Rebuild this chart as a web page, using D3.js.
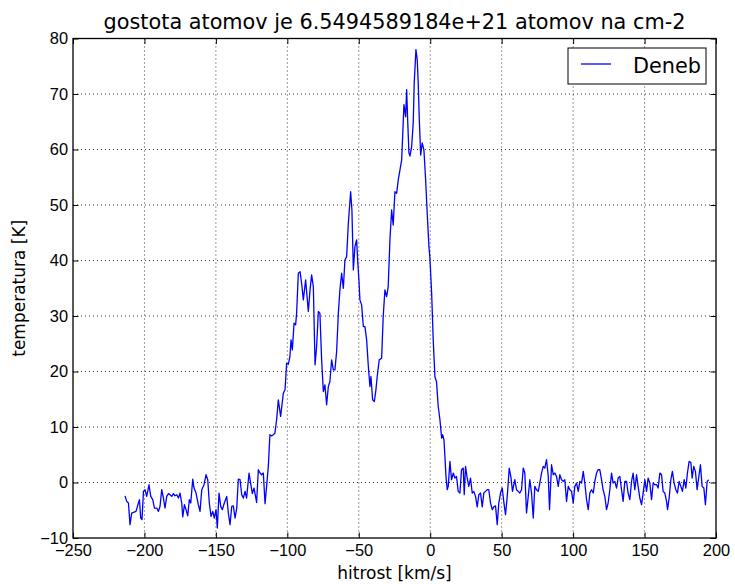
<!DOCTYPE html>
<html>
<head>
<meta charset="utf-8">
<script src="https://cdn.jsdelivr.net/npm/d3@7"></script>
<style>
  body { margin: 0; background: #fff; }
  svg { display: block; font-family: "DejaVu Sans", sans-serif; }
  .axis path { display: none; }
  .axis line { stroke: #000; stroke-width: 1; }
  .axis text { font-size: 16.4px; fill: #000; }
  .grid line { stroke: #000; stroke-width: 0.8; stroke-dasharray: 1, 3; }
</style>
</head>
<body>
<div id="chart"></div>
<script>
// radial velocity [km/s]
const velocity = [
  -213.6, -212.4, -211.2, -210.1, -208.9, -207.7, -205.9, -204.9, -203.5, -202.6,
  -201.7, -200.7, -199.6, -198.4, -196.8, -195.6, -194.2, -193.0, -191.4, -190.2,
  -189.1, -187.9, -186.7, -185.6, -184.4, -183.2, -182.1, -180.9, -179.7, -178.6,
  -177.4, -176.2, -175.1, -173.9, -173.2, -172.0, -170.9, -169.7, -168.6, -167.6,
  -166.2, -165.3, -163.9, -162.3, -161.1, -159.9, -158.3, -156.9, -155.7, -154.6,
  -153.4, -152.2, -151.1, -149.9, -149.0, -147.8, -146.6, -145.5, -144.1, -142.4,
  -141.3, -140.1, -138.9, -137.8, -136.6, -135.4, -134.3, -133.1,
  -131.9, -130.8, -129.6, -128.5, -126.8, -125.7, -124.5, -123.3, -121.5, -120.3,
  -119.1, -118.0, -116.8, -115.6, -114.5, -113.3, -112.2, -111.0, -109.8, -108.7,
  -107.5, -106.3, -104.7,
  -102.8, -101.6, -100.5, -99.3, -98.2, -97.4, -96.5, -95.3, -94.2, -93.5,
  -92.3, -91.1, -90.0, -88.8, -87.2, -85.3, -84.1, -83.0, -81.8, -80.6,
  -79.5, -78.3, -77.2, -76.0, -74.8, -73.7, -72.5, -71.3, -70.2, -69.0,
  -67.8, -66.7, -65.5,
  -64.3, -63.2, -62.0, -60.8, -59.7, -58.5, -57.3, -55.7, -54.8, -53.8,
  -52.7, -51.5, -50.8, -49.9, -49.2, -48.0, -46.8, -45.7, -44.5, -43.3,
  -42.2, -41.5, -40.3, -39.1, -38.0, -37.1, -35.7,
  -34.0, -32.9, -31.7, -30.5, -29.4, -28.2, -27.0, -25.9, -24.7, -23.5,
  -22.4, -21.2, -20.0, -19.3, -18.4, -17.2, -16.5, -15.8, -14.9, -14.2,
  -13.0, -11.9, -11.2, -10.0, -9.1, -8.4, -7.7, -6.7, -5.6, -4.4,
  -3.2, -2.1, -0.9, -0.2, 1.0, 2.1, 3.3, 4.4, 5.6, 6.8,
  8.0, 8.7, 9.6, 10.3, 11.0, 11.9, 12.6, 13.8, 14.9, 16.1,
  17.3, 18.4, 19.6, 20.8, 21.9, 23.1, 23.8, 24.7, 25.9, 27.0,
  28.2, 29.4, 30.5, 31.7, 32.9, 34.0, 35.2, 36.4, 37.5, 38.7,
  39.9, 41.0, 42.2, 43.4, 44.5, 45.7, 46.9, 48.0, 49.2, 50.4,
  51.5, 52.7, 53.9, 55.3, 56.4, 57.6,
  59.2, 60.4, 61.6, 62.7, 63.9, 65.1, 66.2, 67.4, 68.6, 69.7,
  70.9, 72.1, 73.2, 74.4, 75.6, 76.7, 77.9, 79.1, 80.2, 81.4,
  82.6, 83.5, 84.9, 86.1, 87.2, 88.4, 89.6, 90.7, 91.9, 93.1,
  94.2, 95.4, 96.6, 97.7, 98.9, 100.1, 101.2, 102.4, 103.6, 104.7,
  105.9, 107.1, 108.2, 109.4, 110.6, 111.7, 112.9, 114.1, 115.2, 116.4,
  117.5, 118.7, 119.9, 121.0, 122.2, 123.4, 124.5, 125.7, 126.9, 128.0,
  129.2,
  130.4, 131.5, 132.7, 133.9, 135.0, 136.2, 137.4, 138.5, 139.7, 140.9,
  142.0, 143.2, 144.4, 145.5, 146.7, 147.9, 149.0, 150.2, 151.4, 152.5,
  153.7, 154.9, 156.0, 157.2, 158.4, 159.5, 160.7, 161.9, 163.0, 164.2,
  165.4, 166.1, 167.2, 168.4, 169.5, 170.7, 171.9, 173.0, 174.2, 175.4,
  176.5, 177.7, 178.9, 180.0, 181.2, 182.4, 183.3, 184.4, 185.6, 186.8,
  188.0, 189.1, 190.3, 191.5, 192.6, 193.8, 194.9
];

// brightness temperature [K]
const temperature = [
  -2.4, -3.4, -3.7, -7.6, -5.5, -5.4, -5.2, -4.3, -3.1, -6.4,
  -6.7, -1.6, -1.3, -2.5, -0.4, -2.5, -3.1, -4.6, -4.6, -5.2,
  -4.3, -1.3, -2.8, -4.6, -2.5, -2.0, -2.2, -2.5, -2.0, -2.4,
  -2.2, -2.8, -1.9, -3.7, -6.2, -4.0, -4.9, -6.0, -3.1, -3.7,
  0.6, -1.0, -1.9, -4.0, -5.2, -1.3, -0.4, 1.4, 0.5, -3.7,
  -6.1, -5.2, -6.4, -4.9, -8.2, -1.9, -4.3, -4.9, -3.7, -2.5,
  -5.5, -7.6, -4.3, -4.2, -6.4, -4.6, 0.6, 0.5,
  -2.2, -2.8, -1.6, -2.8, 1.7, -0.1, -2.0, -1.0, -3.6, 2.3,
  1.7, 1.4, 1.7, -3.8, -0.7, 2.9, 8.6, 8.4, 8.6, 8.9,
  11.3, 14.9, 11.9,
  16.1, 16.7, 21.5, 21.3, 22.7, 25.7, 23.9, 28.7, 28.4, 30.5,
  37.7, 38.0, 35.9, 32.9, 36.5, 30.8, 34.7, 37.4, 35.3, 21.2,
  24.5, 30.8, 30.5, 22.1, 16.4, 17.6, 14.0, 17.3, 18.2, 22.1,
  20.3, 20.3, 23.6,
  30.5, 34.7, 37.7, 35.0, 40.1, 40.7, 46.7, 52.4, 49.1, 38.3,
  42.5, 43.7, 40.1, 36.5, 32.9, 32.0, 28.1, 28.1, 25.7, 20.9,
  17.3, 19.1, 14.9, 14.6, 16.7, 19.1, 22.1,
  22.4, 29.9, 34.7, 33.5, 35.3, 43.7, 49.1, 46.4, 52.4, 52.1,
  54.5, 56.3, 58.1, 62.3, 68.1, 65.9, 70.8, 65.4, 59.4, 58.8,
  60.5, 64.8, 72.0, 78.0, 76.2, 72.0, 65.9, 59.0, 61.2, 59.9,
  54.5, 48.5, 42.5, 40.4, 34.1, 25.7, 19.0, 18.2, 13.7, 11.3,
  8.0, 8.6, 7.7, 4.7, 1.1, -1.3, -0.7, 3.8, 0.5, 1.7,
  0.8, 1.1, -1.6, -1.9, 2.3, 2.6, -2.2, 2.9, 0.8, -0.7,
  0.8, -1.9, -1.6, -2.5, -4.4, -2.2, -1.9, -4.4, -1.9, -1.6,
  -1.3, -1.3, -3.7, -4.9, -4.4, -4.2, -7.6, -3.7, -1.9, -1.0,
  -3.5, -5.8, -2.5, 2.6, 1.1, -1.6,
  0.5, -1.3, -1.6, -1.9, -1.3, 2.6, 1.7, -5.5, -2.5, 0.5,
  -1.9, -6.4, -0.7, -1.3, -1.6, -0.1, 1.7, 2.9, 2.6, 4.1,
  1.1, -4.9, 3.2, 1.4, 1.7, 1.1, -0.7, 1.4, 0.5, 0.2,
  0.5, -3.4, -0.7, -1.3, -1.6, -3.7, -0.7, -0.1, -1.6, 0.2,
  -0.1, 2.0, -0.1, -3.1, -4.9, -1.9, -1.3, -1.9, 0.2, 1.7,
  2.3, 2.3, 0.5, -1.3, -2.5, -4.9, -3.7, -1.3, 1.7, -0.1,
  0.2,
  -1.0, 0.8, 1.1, -1.3, -3.4, 0.2, 0.2, -1.9, -3.1, 0.2,
  1.7, -1.3, 1.4, -0.7, -2.8, -4.0, -1.9, 0.5, -1.6, 0.8,
  -0.1, -3.1, -0.1, -0.4, -0.4, -1.0, 1.7, 1.4, -1.6, -1.9,
  -3.4, -4.9, -2.8, 0.5, 2.0, -0.1, -1.3, -1.9, 0.2, -0.7,
  -1.6, 0.5, -1.0, 1.7, 3.8, 3.6, 0.8, 2.9, 2.0, -1.3,
  1.1, 3.2, -0.7, -1.0, -4.0, 0.2, 0.5
];

const xTicks = [-250, -200, -150, -100, -50, 0, 50, 100, 150, 200];
const yTicks = [-10, 0, 10, 20, 30, 40, 50, 60, 70, 80];

const title = 'gostota atomov je 6.5494589184e+21 atomov na cm-2';
const xLabel = 'hitrost [km/s]';
const yLabel = 'temperatura [K]';
const seriesName = 'Deneb';

const width = 735;
const height = 584;
const margin = {top: 38.5, right: 19, bottom: 46, left: 73};
const innerW = width - margin.left - margin.right;
const innerH = height - margin.top - margin.bottom;

// matplotlib style minus sign
const fmt = d => d < 0 ? '\u2212' + Math.abs(d) : String(d);

const x = d3.scaleLinear()
  .domain([xTicks[0], xTicks[xTicks.length - 1]])
  .range([0, innerW]);

const y = d3.scaleLinear()
  .domain([yTicks[0], yTicks[yTicks.length - 1]])
  .range([innerH, 0]);

const svg = d3.select('#chart').append('svg')
  .attr('width', width)
  .attr('height', height);

svg.append('rect')
  .attr('width', width)
  .attr('height', height)
  .attr('fill', '#fff');

const g = svg.append('g')
  .attr('transform', `translate(${margin.left},${margin.top})`);

// dotted grid
const grid = g.append('g').attr('class', 'grid');

grid.selectAll('.gx')
  .data(xTicks.slice(1, -1))
  .enter()
  .append('line')
    .attr('x1', d => x(d))
    .attr('x2', d => x(d))
    .attr('y1', 0)
    .attr('y2', innerH);

grid.selectAll('.gy')
  .data(yTicks.slice(1, -1))
  .enter()
  .append('line')
    .attr('x1', 0)
    .attr('x2', innerW)
    .attr('y1', d => y(d))
    .attr('y2', d => y(d));

// the spectrum
const data = velocity.map((v, i) => ({x: v, y: temperature[i]}));

const line = d3.line()
  .x(d => x(d.x))
  .y(d => y(d.y));

g.append('path')
  .datum(data)
  .attr('d', line)
  .attr('fill', 'none')
  .attr('stroke', '#0000ff')
  .attr('stroke-width', 1.3)
  .attr('stroke-linejoin', 'round');

// axes, ticks pointing inwards on all four sides
const tick = 5.5;

g.append('g')
  .attr('class', 'axis')
  .attr('transform', `translate(0,${innerH})`)
  .call(d3.axisBottom(x).tickValues(xTicks).tickFormat(fmt)
    .tickSize(-tick).tickPadding(6));

g.append('g')
  .attr('class', 'axis')
  .call(d3.axisTop(x).tickValues(xTicks).tickFormat('')
    .tickSize(-tick));

g.append('g')
  .attr('class', 'axis')
  .call(d3.axisLeft(y).tickValues(yTicks).tickFormat(fmt)
    .tickSize(-tick).tickPadding(5));

g.append('g')
  .attr('class', 'axis')
  .attr('transform', `translate(${innerW},0)`)
  .call(d3.axisRight(y).tickValues(yTicks).tickFormat('')
    .tickSize(-tick));

g.selectAll('.axis text').attr('font-family', null);

// frame
g.append('rect')
  .attr('width', innerW)
  .attr('height', innerH)
  .attr('fill', 'none')
  .attr('stroke', '#000')
  .attr('stroke-width', 1.3);

// labels
svg.append('text')
  .attr('x', margin.left + innerW / 2)
  .attr('y', 28.5)
  .attr('text-anchor', 'middle')
  .attr('font-size', 20.8)
  .text(title);

svg.append('text')
  .attr('x', margin.left + innerW / 2)
  .attr('y', 579)
  .attr('text-anchor', 'middle')
  .attr('font-size', 17)
  .text(xLabel);

svg.append('text')
  .attr('transform', `translate(25,${margin.top + innerH / 2}) rotate(-90)`)
  .attr('text-anchor', 'middle')
  .attr('font-size', 17)
  .text(yLabel);

// legend
const legend = g.append('g')
  .attr('transform', `translate(${innerW - 148},${9.5})`);

legend.append('rect')
  .attr('width', 138)
  .attr('height', 36)
  .attr('fill', '#fff')
  .attr('stroke', '#000')
  .attr('stroke-width', 1);

legend.append('line')
  .attr('x1', 13)
  .attr('x2', 43)
  .attr('y1', 16)
  .attr('y2', 16)
  .attr('stroke', '#0000ff')
  .attr('stroke-width', 1.3);

legend.append('text')
  .attr('x', 65)
  .attr('y', 25)
  .attr('font-size', 20.8)
  .text(seriesName);
</script>
</body>
</html>
